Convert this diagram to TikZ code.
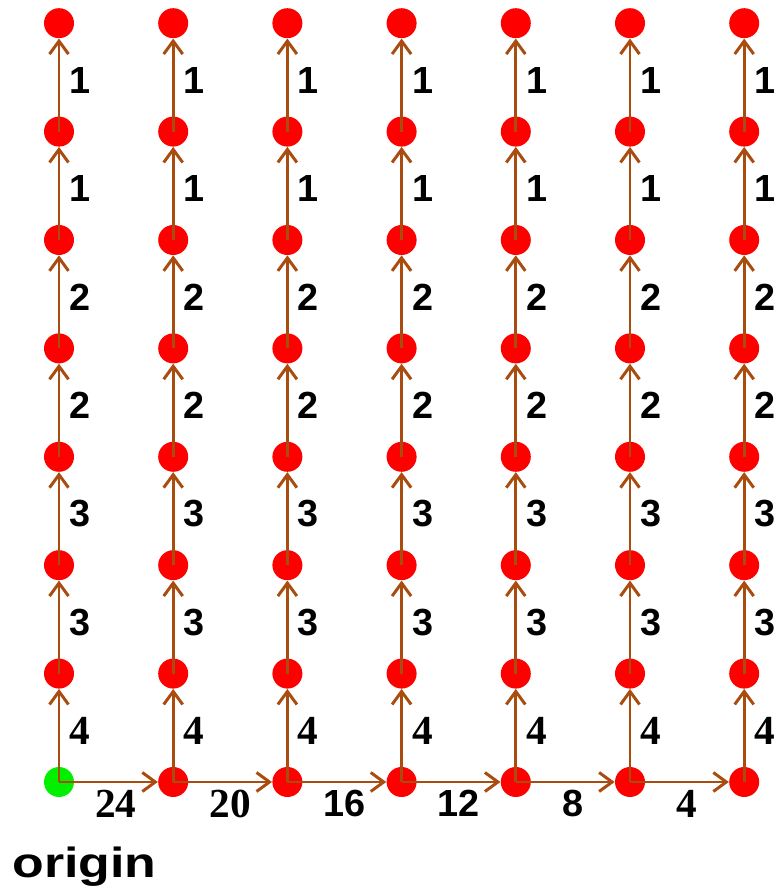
\documentclass[tikz,border=0pt]{standalone}
\usepackage{fontspec}
\setmainfont{Liberation Sans}
\newfontfamily\numserif{Liberation Serif}
\newfontfamily\widesans[FakeStretch=1.23]{Liberation Sans}
\usetikzlibrary{arrows.meta}
\definecolor{edgebrown}{RGB}{168,76,16}
\definecolor{vertexred}{RGB}{255,0,0}
\definecolor{rootgreen}{RGB}{0,240,0}
\tikzset{
  vertex/.style={circle,fill=vertexred,minimum size=6mm,inner sep=0pt},
  root/.style={vertex,fill=rootgreen},
  edge/.style={edgebrown,line width=1.7pt,-{Straight Barb[length=2.6mm,width=3.8mm]}},
  weight/.style={inner sep=0pt,text=black,font=\fontsize{21.5}{24}\selectfont\bfseries},
  weightserif/.style={weight,font=\fontsize{23.5}{26}\selectfont\numserif\bfseries},
}

\begin{document}
\begin{tikzpicture}
  \useasboundingbox (0,0) rectangle (15.52,17.8);
  % grid of vertices, green one is the origin
  \foreach \i in {0,...,6}
    \foreach \j in {0,...,7}{
      \ifnum\i\j=0 \def\kind{root}\else\def\kind{vertex}\fi
      \node[\kind] (v\i-\j) at ({1.18+2.284*\i},{2.16+2.168*\j}) {};
    }
  % vertical edges
  \foreach \i in {0,...,6}
    \foreach \j/\w in {0/4,1/3,2/3,3/2,4/2,5/1,6/1}{
      \pgfmathtruncatemacro\k{\j+1}
      \ifnum\w=4 \def\wkind{weightserif}\else\def\wkind{weight}\fi
      \draw[edge] (v\i-\j.center) -- node[\wkind,midway,right=1.8mm,yshift=1mm]{\w} (v\i-\k);
    }
  % bottom row
  \foreach \i/\w in {0/24,1/20,2/16,3/12,4/8,5/4}{
    \pgfmathtruncatemacro\k{\i+1}
    \ifnum\w=16 \def\wkind{weight}\else\ifnum\w=12 \def\wkind{weight}\else
      \ifnum\w=8 \def\wkind{weight}\else\def\wkind{weightserif}\fi\fi\fi
    \draw[edge] (v\i-0.center) -- node[\wkind,midway,below=1.3mm,xshift=1.5mm]{\w} (v\k-0);
  }
  \node[inner sep=0pt,anchor=base west,font=\fontsize{24}{28}\selectfont\widesans\bfseries]
    (rootlabel) at (0.24,0.26) {origin};
\end{tikzpicture}
\end{document}
